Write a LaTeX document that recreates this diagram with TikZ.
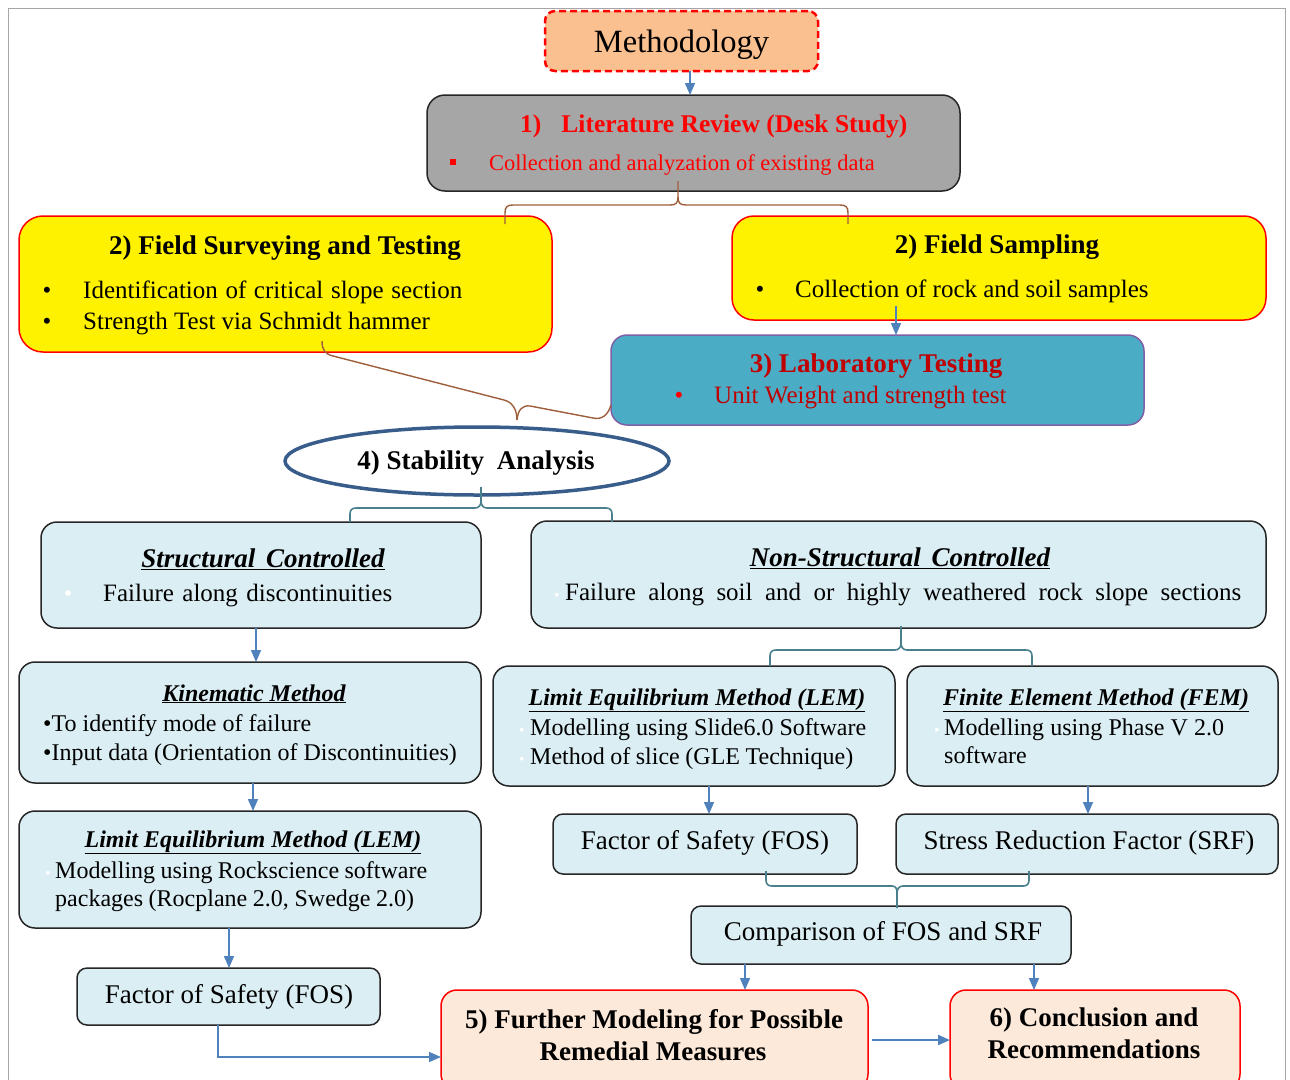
\documentclass[tikz,border=0pt]{standalone}
\usepackage{fontspec}
\setmainfont{Liberation Serif}
\usetikzlibrary{arrows.meta,shapes.geometric}
\definecolor{orangefill}{HTML}{FAC090}
\definecolor{litgray}{HTML}{A6A6A6}
\definecolor{labfill}{HTML}{4BACC6}
\definecolor{labedge}{HTML}{7F5FA8}
\definecolor{lblue}{HTML}{DBEEF4}
\definecolor{peach}{HTML}{FDE9D9}
\definecolor{arrblue}{HTML}{4F81BD}
\definecolor{bbrown}{HTML}{9E5E3B}
\definecolor{bteal}{HTML}{4A7F8E}
\definecolor{ellblue}{HTML}{385D8A}
\definecolor{dred}{HTML}{C00000}
\definecolor{boxedge}{HTML}{262626}
\newcommand\fmeth{\fontsize{32.5}{37}\selectfont}
\newcommand\ftitle{\fontsize{27}{31}\selectfont\bfseries}
\newcommand\fbody{\fontsize{25}{29}\selectfont}
\newcommand\fsmall{\fontsize{24}{28}\selectfont}
\newcommand\fmt{\fontsize{24}{28}\selectfont\bfseries\itshape}
\newcommand\fred{\fontsize{22.5}{26}\selectfont}
\newcommand\ffos{\fontsize{27}{31}\selectfont}
\begin{document}
\begin{tikzpicture}[x=1pt,y=-1pt,
  box/.style={draw, rectangle, inner sep=0pt, outer sep=0pt, rounded corners=16pt},
  blbox/.style={box, fill=lblue, draw=boxedge, line width=1.5pt},
  txt/.style={inner sep=0pt, anchor=base west},
  ctxt/.style={inner sep=0pt, anchor=base},
  arr/.style={draw=arrblue, line width=1.5pt, -{Triangle[width=10pt,length=12pt]}},
  bbr/.style={draw=bbrown, line width=1.4pt},
  btl/.style={draw=bteal, line width=1.6pt}]
\useasboundingbox (0,0) rectangle (1290,1079);
\clip (0,0) rectangle (1290,1079);
\fill[white] (0,0) rectangle (1290,1079);
% outer frame
\draw[gray!70, line width=1pt] (8,1085) -- (8,8) -- (1285,8) -- (1285,1085);

% Methodology
\node[box, fill=orangefill, draw=red, dash pattern=on 7pt off 4pt, line width=2.5pt, rounded corners=10pt,
  minimum width=273pt, minimum height=60pt] (meth) at (681.5,41) {};
\node[ctxt] (methT) at (681.5,52) {\fmeth Methodology};

% Literature review
\node[box, fill=litgray, draw=black!85, line width=1.5pt, rounded corners=18pt,
  minimum width=533pt, minimum height=96pt] (lit) at (693.5,143) {};
\node[txt, text=red] (litT) at (520,132) {\fontsize{25.5}{30}\selectfont\bfseries 1)\hspace{20pt}Literature Review (Desk Study)};
\node[fill=red, minimum size=6pt, inner sep=0pt] (litB) at (453,162) {};
\node[txt, text=red] (litS) at (489,170) {\fred Collection and analyzation of existing data};

% Field surveying
\node[box, fill=yellow, draw=red, line width=1.5pt, rounded corners=24pt,
  minimum width=533pt, minimum height=136pt] (fsurv) at (285.5,284) {};
\node[ctxt] (fsurvT) at (285,254) {\ftitle 2) Field Surveying and Testing};
\node[ctxt] (fsurvB1) at (47,298) {\fbody\textbullet};
\node[txt] (fsurvS1) at (83,298) {\fbody\makebox[379pt][s]{Identification of critical slope section}};
\node[ctxt] (fsurvB2) at (47,329) {\fbody\textbullet};
\node[txt] (fsurvS2) at (83,329) {\fbody Strength Test via Schmidt hammer};

% Field sampling
\node[box, fill=yellow, draw=red, line width=1.5pt, rounded corners=22pt,
  minimum width=534pt, minimum height=104pt] (fsamp) at (999,268) {};
\node[ctxt] (fsampT) at (997,253) {\ftitle 2) Field Sampling};
\node[ctxt] (fsampB) at (760,297) {\fbody\textbullet};
\node[txt] (fsampS) at (795,297) {\fbody Collection of rock and soil samples};

% Laboratory testing
\node[box, fill=labfill, draw=labedge, line width=1.5pt, rounded corners=16pt,
  minimum width=533pt, minimum height=90pt] (lab) at (877.5,380) {};
\node[ctxt, text=dred] (labT) at (876,372) {\ftitle 3) Laboratory Testing};
\node[ctxt, text=red] (labB) at (679,403) {\fbody\textbullet};
\node[txt, text=dred] (labS) at (714,403) {\fbody Unit Weight and strength test};

% Stability analysis
\node[ellipse, draw=ellblue, line width=3.5pt, fill=white, inner sep=0pt,
  minimum width=384pt, minimum height=68pt] (stab) at (477,461) {};
\node[ctxt] (stabT) at (476,469) {\ftitle 4) Stability\hspace{6pt} Analysis};

% Structural controlled
\node[blbox, minimum width=440pt, minimum height=106pt] (struct) at (261,575) {};
\node[ctxt] (structT) at (263,567) {\ftitle\itshape\underline{Structural\hspace{4pt} Controlled}};
\node[ctxt, text=white] (structB) at (68,601) {\fsmall\textbullet};
\node[txt] (structS) at (103,601) {\fbody\makebox[289pt][s]{Failure along discontinuities}};

% Non-structural controlled
\node[blbox, minimum width=735pt, minimum height=107pt] (nonstruct) at (898.5,574.5) {};
\node[ctxt] (nonstructT) at (900,566) {\ftitle\itshape\underline{Non-Structural\hspace{4pt} Controlled}};
\node[ctxt, text=white] (nonstructB) at (557,600) {\fontsize{16}{18}\selectfont\textbullet};
\node[txt] (nonstructS) at (565,600) {\fbody\makebox[676pt][s]{Failure along soil and or highly weathered rock slope sections}};

% Kinematic method
\node[blbox, minimum width=462pt, minimum height=121pt] (kin) at (250,722.5) {};
\node[ctxt] (kinT) at (254,701) {\fmt\underline{Kinematic Method}};
\node[txt] (kinS1) at (43,731) {\fsmall\textbullet To identify mode of failure};
\node[txt] (kinS2) at (43,760) {\fsmall\textbullet Input data (Orientation of Discontinuities)};

% LEM right
\node[blbox, minimum width=402pt, minimum height=120pt] (lemr) at (694,726) {};
\node[ctxt] (lemrT) at (697,705) {\fmt\underline{Limit Equilibrium Method (LEM)}};
\node[ctxt, text=white] (lemrB1) at (522,735) {\fontsize{16}{18}\selectfont\textbullet};
\node[txt] (lemrS1) at (530,735) {\fsmall\makebox[336pt][s]{Modelling using Slide6.0 Software}};
\node[ctxt, text=white] (lemrB2) at (522,764) {\fontsize{16}{18}\selectfont\textbullet};
\node[txt] (lemrS2) at (530,764) {\fsmall\makebox[323pt][s]{Method of slice (GLE Technique)}};

% FEM
\node[blbox, minimum width=371pt, minimum height=120pt] (fem) at (1092.5,726) {};
\node[ctxt] (femT) at (1096,705) {\fmt\underline{Finite Element Method (FEM)}};
\node[ctxt, text=white] (femB) at (937,735) {\fontsize{16}{18}\selectfont\textbullet};
\node[txt] (femS1) at (944,735) {\fsmall\makebox[280pt][s]{Modelling using Phase V 2.0}};
\node[txt] (femS2) at (944,763) {\fsmall software};

% LEM left
\node[blbox, minimum width=462pt, minimum height=117pt] (leml) at (250,869.5) {};
\node[ctxt] (lemlT) at (253,847) {\fmt\underline{Limit Equilibrium Method (LEM)}};
\node[ctxt, text=white] (lemlB) at (48,878) {\fontsize{16}{18}\selectfont\textbullet};
\node[txt] (lemlS1) at (55,878) {\fsmall\makebox[372pt][s]{Modelling using Rockscience software}};
\node[txt] (lemlS2) at (55,906) {\fsmall\makebox[359pt][s]{packages (Rocplane 2.0, Swedge 2.0)}};

% FOS left
\node[blbox, rounded corners=10pt, minimum width=303pt, minimum height=57pt] (fosl) at (228.5,996.5) {};
\node[ctxt] (foslT) at (229,1003) {\ffos Factor of Safety (FOS)};

% FOS right and SRF
\node[blbox, rounded corners=10pt, minimum width=304pt, minimum height=60pt] (fosr) at (705,844) {};
\node[ctxt] (fosrT) at (705,849) {\ffos Factor of Safety (FOS)};
\node[blbox, rounded corners=10pt, minimum width=382pt, minimum height=60pt] (srf) at (1087,844) {};
\node[ctxt] (srfT) at (1089,849) {\ffos Stress Reduction Factor (SRF)};

% Comparison
\node[blbox, rounded corners=10pt, minimum width=380pt, minimum height=58pt] (comp) at (881,935) {};
\node[ctxt] (compT) at (883,940) {\ffos Comparison of FOS and SRF};

% 5 and 6
\node[box, fill=peach, draw=red, line width=1.5pt, rounded corners=16pt,
  minimum width=427pt, minimum height=100pt] (b5) at (654.5,1040) {};
\node[ctxt] (b5T1) at (654,1028) {\ftitle 5) Further Modeling for Possible};
\node[ctxt] (b5T2) at (653,1060) {\ftitle Remedial Measures};
\node[box, fill=peach, draw=red, line width=1.5pt, rounded corners=16pt,
  minimum width=290pt, minimum height=100pt] (b6) at (1095,1040) {};
\node[ctxt] (b6T1) at (1094,1026) {\ftitle 6) Conclusion and};
\node[ctxt] (b6T2) at (1094,1058) {\ftitle Recommendations};

% arrows
\draw[arr] ([xshift=8.5pt]meth.south) -- ([xshift=8.5pt]meth.south |- lit.north);
\coordinate (fsA) at (896,306);
\draw[arr] (fsA) -- (fsA |- lab.north);
\draw[arr] ([xshift=-5pt]struct.south) -- ([xshift=-5pt]struct.south |- kin.north);
\draw[arr] ([xshift=3pt]kin.south) -- ([xshift=3pt]kin.south |- leml.north);
\draw[arr] ([xshift=-21pt]leml.south) -- ([xshift=-21pt]leml.south |- fosl.north);
\draw[arr] ([xshift=15pt]lemr.south) -- ([xshift=15pt]lemr.south |- fosr.north);
\draw[arr] ([xshift=-4.5pt]fem.south) -- ([xshift=-4.5pt]fem.south |- srf.north);
\draw[arr] ([xshift=-136pt]comp.south) -- ([xshift=-136pt]comp.south |- b5.north);
\draw[arr] ([xshift=153pt]comp.south) -- ([xshift=153pt]comp.south |- b6.north);
\draw[arr] ([xshift=-10.5pt]fosl.south) |- ([yshift=-17pt]b5.west);
\draw[arr, line width=2pt] ([xshift=4pt,yshift=0pt]b5.east) -- (b6.west);

% brace: literature review to field boxes
\draw[bbr] (505,224) -- (505,213) .. controls (505,207) and (507,205) .. (513,205) -- (670,205)
  .. controls (676,205) and (678,203) .. (678,197) -- (678,181);
\draw[bbr] (678,197) .. controls (678,203) and (680,205) .. (686,205) -- (840,205)
  .. controls (846,205) and (848,207) .. (848,213) -- (848,224);
% brace: field surveying & lab to stability
\draw[bbr] (322,341) .. controls (322,350) and (325,354) .. (333,356) -- (504,400)
  .. controls (512,402) and (517,409) .. (517,420);
\draw[bbr] (517,420) .. controls (518,410) and (522,405) .. (530,406) -- (593,418)
  .. controls (602,420) and (608,415) .. (611,405);
% brace: stability to the two groups
\draw[btl] (350,522) -- (350,514) .. controls (350,510) and (352,508) .. (356,508) -- (475,508)
  .. controls (479,508) and (481,505) .. (481,501) -- (481,487);
\draw[btl] (481,501) .. controls (481,505) and (483,508) .. (487,508) -- (606,508)
  .. controls (610,508) and (612,510) .. (612,514) -- (612,522);
% brace: non-structural to LEM / FEM
\draw[btl] (770,666) -- (770,656) .. controls (770,652) and (772,650) .. (776,650) -- (895,650)
  .. controls (899,650) and (901,647) .. (901,643) -- (901,626);
\draw[btl] (901,643) .. controls (901,647) and (903,650) .. (907,650) -- (1026,650)
  .. controls (1030,650) and (1032,652) .. (1032,656) -- (1032,666);
% brace: FOS / SRF to comparison
\draw[btl] (766,871) -- (766,880) .. controls (766,884) and (768,886) .. (772,886) -- (892,886)
  .. controls (896,886) and (897,889) .. (897,893) -- (897,908);
\draw[btl] (897,893) .. controls (897,889) and (899,886) .. (903,886) -- (1023,886)
  .. controls (1027,886) and (1029,884) .. (1029,880) -- (1029,871);
\end{tikzpicture}
\end{document}
